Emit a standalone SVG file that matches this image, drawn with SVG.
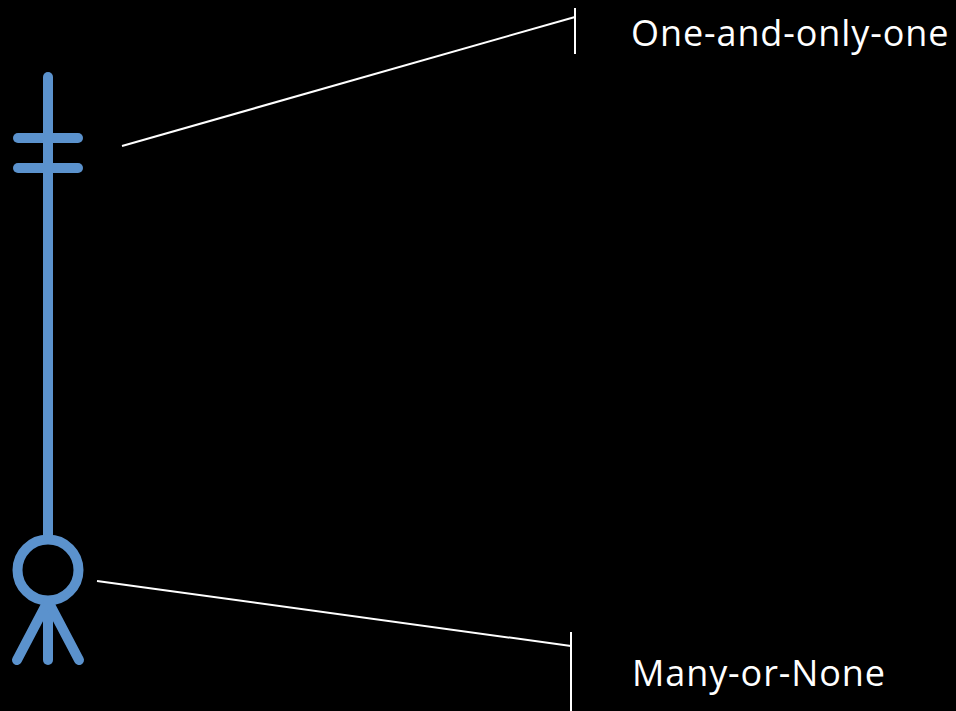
<svg xmlns="http://www.w3.org/2000/svg" width="956" height="711" viewBox="0 0 956 711">
<style>
.sym{stroke:#5B92CD;stroke-width:10;stroke-linecap:round;fill:none}
.lead{stroke:#FFFFFF;stroke-width:2;fill:none}
.lbl{font-family:"Open Sans",sans-serif;font-size:36px;letter-spacing:0.9px;fill:#FFFFFF}
</style>
<rect x="0" y="0" width="956" height="711" fill="#000000"/>
<g id="relationship">
<line class="sym" x1="48" y1="77" x2="48" y2="538"/>
<line class="sym" x1="18" y1="138" x2="78" y2="138"/>
<line class="sym" x1="18" y1="168" x2="78" y2="168"/>
<circle class="sym" cx="48" cy="570" r="30.5"/>
<line class="sym" x1="48" y1="601" x2="17" y2="660"/>
<line class="sym" x1="48" y1="601" x2="48" y2="660"/>
<line class="sym" x1="48" y1="601" x2="79" y2="660"/>
</g>
<g id="connectors">
<line class="lead" x1="122" y1="146" x2="575" y2="17"/>
<line class="lead" x1="575" y1="8" x2="575" y2="54"/>
<line class="lead" x1="97" y1="581" x2="571" y2="646"/>
<line class="lead" x1="571" y1="632" x2="571" y2="711"/>
</g>
<g id="label-one">
<text class="lbl" x="631" y="46">One-and-only-one</text>
</g>
<g id="label-many">
<text class="lbl" x="632" y="686">Many-or-None</text>
</g>
</svg>
